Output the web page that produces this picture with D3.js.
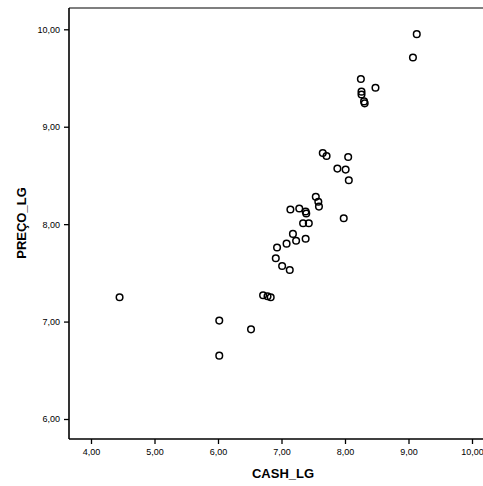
<!DOCTYPE html>
<html><head><meta charset="utf-8">
<script src="https://cdn.jsdelivr.net/npm/d3@7"></script>
<style>body{margin:0;background:#fff}svg{display:block}</style>
</head><body>
<script>
const cashLg = [9.13,9.07,8.25,8.48,8.26,8.26,8.30,8.31,7.65,7.71,8.05,7.88,8.01,8.06,7.54,7.58,7.59,7.98,7.14,7.28,7.38,7.39,7.34,7.43,7.18,7.08,7.23,7.38,6.93,6.91,7.01,7.13,6.71,6.78,6.83,4.45,6.02,6.52,6.02];
const precoLg = [9.95,9.71,9.49,9.40,9.36,9.33,9.26,9.24,8.73,8.70,8.69,8.57,8.56,8.45,8.28,8.23,8.18,8.06,8.15,8.16,8.13,8.11,8.01,8.01,7.90,7.80,7.83,7.85,7.76,7.65,7.57,7.53,7.27,7.26,7.25,7.25,7.01,6.92,6.65];
const xTicks = [4,5,6,7,8,9,10];
const yTicks = [6,7,8,9,10];
const xTitle = "CASH_LG", yTitle = "PREÇO_LG";

(function () {
const W = 483, H = 486;
const pL = 69, pT = 8, pR = 483, pB = 439;
const svg = d3.select("body").append("svg").attr("width", W).attr("height", H);
const x = d3.scaleLinear().domain([4, 10]).range([91, 472]);
const y = d3.scaleLinear().domain([6, 10]).range([419, 29.3]);
const fmt = d => d3.format(".2f")(d).replace(".", ",");

// frame
svg.append("line").attr("x1", pL).attr("x2", pR).attr("y1", pT).attr("y2", pT).attr("stroke", "#000").attr("stroke-width", 1.2);
svg.append("line").attr("x1", pL).attr("x2", pL).attr("y1", pT).attr("y2", pB).attr("stroke", "#000").attr("stroke-width", 1.6);
svg.append("line").attr("x1", pL).attr("x2", pR).attr("y1", pB).attr("y2", pB).attr("stroke", "#000").attr("stroke-width", 1.6);

const xAxis = d3.axisBottom(x).tickValues(xTicks).tickFormat(fmt).tickSize(5).tickPadding(5);
const gx = svg.append("g").attr("transform", `translate(0,${pB})`).call(xAxis);
gx.select(".domain").remove();
const yAxis = d3.axisLeft(y).tickValues(yTicks).tickFormat(fmt).tickSize(5).tickPadding(4);
const gy = svg.append("g").attr("transform", `translate(${pL},0)`).call(yAxis);
gy.select(".domain").remove();
svg.selectAll(".tick line").attr("stroke", "#000").attr("stroke-width", 1.3);
svg.selectAll(".tick text").attr("font-family", "Liberation Sans, Arial, sans-serif").attr("font-size", 9).attr("fill", "#000");

svg.append("text").attr("x", 283).attr("y", 478).attr("text-anchor", "middle")
  .attr("font-family", "Liberation Sans, Arial, sans-serif").attr("font-weight", "bold").attr("font-size", 13).text(xTitle);
svg.append("text").attr("transform", "translate(26,223) rotate(-90)").attr("text-anchor", "middle")
  .attr("font-family", "Liberation Sans, Arial, sans-serif").attr("font-weight", "bold").attr("font-size", 13).text(yTitle);

svg.append("g").selectAll("circle").data(cashLg.map((c, i) => [c, precoLg[i]])).join("circle")
  .attr("cx", d => x(d[0])).attr("cy", d => y(d[1])).attr("r", 3.3)
  .attr("fill", "none").attr("stroke", "#000").attr("stroke-width", 1.5);
})();
</script>
</body></html>
